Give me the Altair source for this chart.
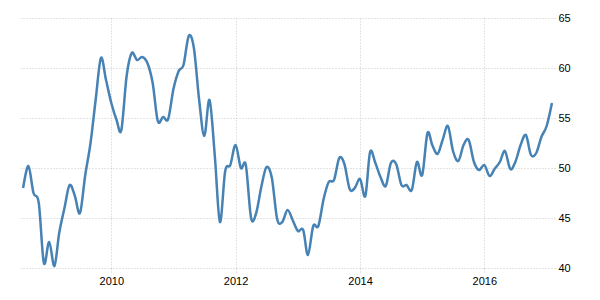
import altair as alt
import pandas as pd

# monthly observations, Aug 2008 .. Feb 2017
start_month = "2008-08-01"
end_month = "2017-02-01"
values = [
    # 2008 Aug-Dec
    48.0, 50.2, 47.5, 46.5, 40.5,
    # 2009
    42.6, 40.2, 43.5, 46.0, 48.3, 47.2, 45.5, 49.3, 52.5, 56.8, 61.0, 58.8,
    # 2010
    56.5, 54.8, 53.8, 59.2, 61.5, 60.8, 61.1, 60.5, 58.5, 54.7, 55.1, 54.9,
    # 2011
    57.9, 59.7, 60.3, 63.2, 62.0, 56.8, 53.2, 56.8, 51.2, 44.6, 49.7, 50.3,
    # 2012
    52.3, 50.0, 50.3, 45.0, 45.5, 48.2, 50.1, 49.0, 44.9, 44.6, 45.8, 44.8,
    # 2013
    43.7, 43.8, 41.3, 44.2, 44.2, 46.9, 48.6, 48.8, 51.0, 50.4, 47.9, 48.0,
    # 2014
    48.9, 47.2, 51.6, 50.5, 49.1, 48.2, 50.5, 50.4, 48.3, 48.3, 47.8, 50.6,
    # 2015
    49.3, 53.5, 52.3, 51.4, 52.8, 54.2, 51.7, 50.7, 52.3, 52.8, 50.6, 49.8,
    # 2016
    50.3, 49.2, 49.9, 50.6, 51.7, 49.9, 50.6, 52.3, 53.3, 51.3, 51.5, 53.1,
    # 2017 Jan-Feb
    54.2, 56.5,
]
x_tick_years = [2010, 2012, 2014, 2016]
y_ticks = [40, 45, 50, 55, 60, 65]

dates = pd.date_range(start_month, end_month, freq="MS").strftime("%Y-%m-%d").tolist()
df = pd.DataFrame({"date": dates, "value": values})

grid_color = "#c8c8c8"

chart = alt.Chart(df).mark_line(
    color="#4682b4", strokeWidth=2.5, interpolate="cardinal"
).encode(
    x=alt.X(
        "date:T",
        scale=alt.Scale(
            type="utc",
            domain=[
                alt.DateTime(year=2008, month=7, date=2, utc=True),
                alt.DateTime(year=2017, month=2, date=19, utc=True),
            ],
        ),
        axis=alt.Axis(
            values=[alt.DateTime(year=y, month=1, date=1, utc=True) for y in x_tick_years],
            format="%Y",
            formatType="utc",
            title=None,
            grid=True,
            gridDash=[1, 2],
            gridColor=grid_color,
            domain=False,
            ticks=True,
            tickSize=4,
            tickColor=grid_color,
            tickDash=[1, 2],
            labelFont="Liberation Sans",
            labelFontSize=11,
            labelColor="#000000",
            labelPadding=3,
        ),
    ),
    y=alt.Y(
        "value:Q",
        scale=alt.Scale(domain=[40, 65], nice=False, zero=False),
        axis=alt.Axis(
            orient="right",
            values=y_ticks,
            title=None,
            grid=True,
            gridDash=[1, 2],
            gridColor=grid_color,
            domain=False,
            ticks=False,
            labelFont="Liberation Sans",
            labelFontSize=11,
            labelColor="#000000",
            labelPadding=3,
        ),
    ),
).properties(
    width=537,
    height=250,
    autosize="none",
    padding={"left": 18, "top": 18, "right": 45, "bottom": 32},
).configure_view(stroke=None)

chart.save("out.html", embed_options={"renderer": "svg", "actions": False})
